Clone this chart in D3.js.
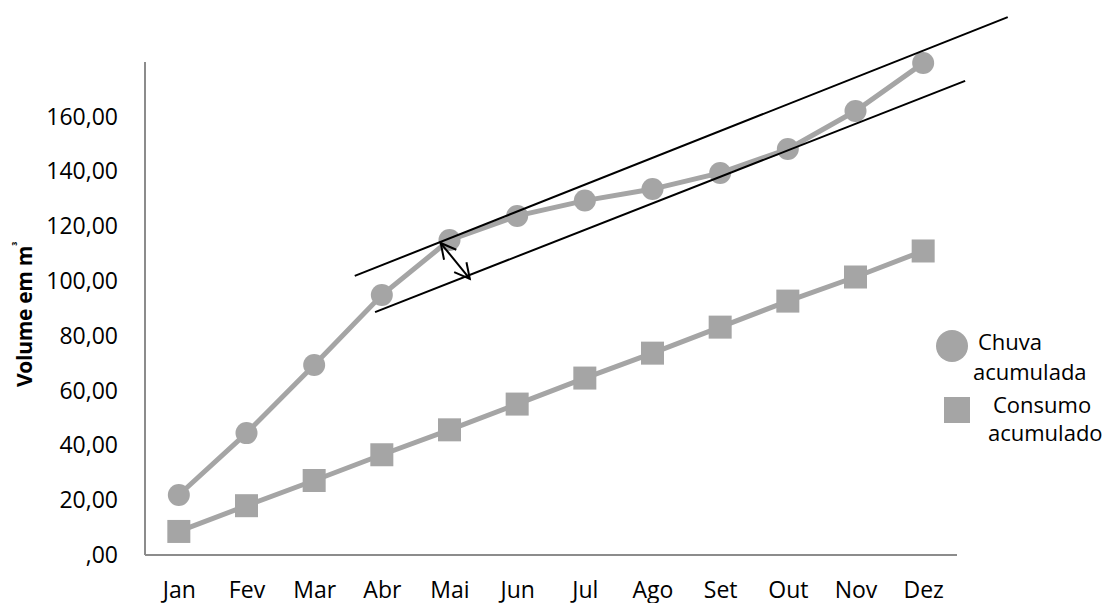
<!DOCTYPE html>
<html>
<head>
<meta charset="utf-8">
<script src="https://cdn.jsdelivr.net/npm/d3@7"></script>
<style>
  html, body { margin: 0; padding: 0; background: #fff; }
  svg { display: block; font-family: "Open Sans", "Noto Sans", sans-serif; }
</style>
</head>
<body>
<svg id="chart" width="1111" height="603"></svg>
<script>
// Months of the year (Portuguese)
const months = ["Jan", "Fev", "Mar", "Abr", "Mai", "Jun", "Jul", "Ago", "Set", "Out", "Nov", "Dez"];

// Accumulated rainfall collected (m³)
const chuvaAcumulada = [21.9, 44.5, 69.4, 94.9, 115.0, 123.8, 129.4, 133.6, 139.5, 148.2, 162.1, 179.6];

// Accumulated consumption (m³)
const consumoAcumulado = [8.6, 18.0, 27.2, 36.6, 45.7, 55.1, 64.6, 73.7, 83.2, 92.7, 101.5, 111.0];

// Y axis ticks and their labels
const yTicks = [0, 20, 40, 60, 80, 100, 120, 140, 160];
const yTickLabels = [",00", "20,00", "40,00", "60,00", "80,00", "100,00", "120,00", "140,00", "160,00"];

// Guide lines drawn over the chart, in (month index, volume) units
const guideUpper = [[2.6, 101.9], [12.25, 196.4]];
const guideLower = [[2.9, 88.7], [11.62, 173.1]];
// Double-headed arrow showing the gap between the guides
const gapArrow = [[3.87, 113.9], [4.30, 100.8]];

const legendItems = [
  { shape: "circle", lines: ["Chuva", "acumulada"] },
  { shape: "square", lines: ["Consumo", "acumulado"] }
];

const svg = d3.select("#chart");
const grey = "#a5a5a5";
const axisGrey = "#8c8c8c";

const plotLeft = 145, plotRight = 957, plotTop = 62, plotBottom = 555;

const x = d3.scalePoint().domain(months).range([plotLeft, plotRight]).padding(0.5);
const xi = d3.scaleLinear().domain([0, months.length - 1]).range([x(months[0]), x(months[months.length - 1])]);
const y = d3.scaleLinear().domain([0, 180]).range([plotBottom, plotTop]);

// Axes
const yAxis = d3.axisLeft(y).tickValues(yTicks).tickSize(0).tickPadding(27)
  .tickFormat((d, i) => yTickLabels[i]);
const gy = svg.append("g").attr("transform", `translate(${plotLeft},0)`).call(yAxis);
gy.select(".domain").remove();
gy.selectAll("text").attr("font-size", 23).attr("fill", "#000")
  .attr("font-family", "'Open Sans', sans-serif");

const xAxis = d3.axisBottom(x).tickSize(0).tickPadding(27);
const gx = svg.append("g").attr("transform", `translate(0,${plotBottom})`).call(xAxis);
gx.select(".domain").remove();
gx.selectAll("text").attr("font-size", 23).attr("fill", "#000")
  .attr("font-family", "'Open Sans', sans-serif");

svg.append("line").attr("x1", plotLeft).attr("x2", plotLeft).attr("y1", plotTop).attr("y2", plotBottom)
  .attr("stroke", axisGrey).attr("stroke-width", 2);
svg.append("line").attr("x1", plotLeft).attr("x2", plotRight).attr("y1", plotBottom).attr("y2", plotBottom)
  .attr("stroke", axisGrey).attr("stroke-width", 2);

// Y axis title
svg.append("text")
  .attr("transform", `translate(32,${(plotTop + plotBottom) / 2 + 6}) rotate(-90)`)
  .attr("text-anchor", "middle")
  .attr("font-size", 21).attr("font-weight", "bold")
  .attr("letter-spacing", -0.3)
  .text("Volume em m")
  .append("tspan").attr("font-size", 11).attr("dy", -11).text("³");

// Series lines
const line = d3.line().x((d, i) => x(months[i])).y(d => y(d));
svg.append("path").datum(consumoAcumulado).attr("d", line)
  .attr("fill", "none").attr("stroke", grey).attr("stroke-width", 5);
svg.append("path").datum(chuvaAcumulada).attr("d", line)
  .attr("fill", "none").attr("stroke", grey).attr("stroke-width", 5);

// Markers
svg.append("g").selectAll("rect").data(consumoAcumulado).join("rect")
  .attr("x", (d, i) => x(months[i]) - 11.5).attr("y", d => y(d) - 11.5)
  .attr("width", 23).attr("height", 23).attr("fill", grey);
svg.append("g").selectAll("circle").data(chuvaAcumulada).join("circle")
  .attr("cx", (d, i) => x(months[i])).attr("cy", d => y(d))
  .attr("r", 11).attr("fill", grey);

// Guide lines
const guideLine = d3.line().x(d => xi(d[0])).y(d => y(d[1]));
[guideUpper, guideLower].forEach(g => {
  svg.append("path").attr("d", guideLine(g)).attr("fill", "none")
    .attr("stroke", "#000").attr("stroke-width", 2);
});

// Double-headed arrow
const p0 = [xi(gapArrow[0][0]), y(gapArrow[0][1])];
const p1 = [xi(gapArrow[1][0]), y(gapArrow[1][1])];
svg.append("line").attr("x1", p0[0]).attr("y1", p0[1]).attr("x2", p1[0]).attr("y2", p1[1])
  .attr("stroke", "#000").attr("stroke-width", 2);
function head(tip, from) {
  const ang = Math.atan2(from[1] - tip[1], from[0] - tip[0]);
  const len = 17, spread = Math.PI / 6.5;
  const a = [tip[0] + len * Math.cos(ang - spread), tip[1] + len * Math.sin(ang - spread)];
  const b = [tip[0] + len * Math.cos(ang + spread), tip[1] + len * Math.sin(ang + spread)];
  svg.append("path").attr("d", `M${a[0]},${a[1]}L${tip[0]},${tip[1]}L${b[0]},${b[1]}`)
    .attr("fill", "none").attr("stroke", "#000").attr("stroke-width", 2);
}
head(p0, p1);
head(p1, p0);

// Legend
const legend = svg.append("g");
const lg0 = legend.append("g").attr("transform", "translate(952,346)");
lg0.append("circle").attr("r", 16).attr("fill", grey);
lg0.append("text").attr("x", 26).attr("y", -4).attr("dy", "0.35em").attr("font-size", 22).text(legendItems[0].lines[0]);
lg0.append("text").attr("x", 21).attr("y", 26).attr("dy", "0.35em").attr("font-size", 22).text(legendItems[0].lines[1]);
const lg1 = legend.append("g").attr("transform", "translate(957,410)");
lg1.append("rect").attr("x", -13).attr("y", -13).attr("width", 26).attr("height", 26).attr("fill", grey);
lg1.append("text").attr("x", 36).attr("y", -5).attr("dy", "0.35em").attr("font-size", 22).text(legendItems[1].lines[0]);
lg1.append("text").attr("x", 31).attr("y", 23).attr("dy", "0.35em").attr("font-size", 22).text(legendItems[1].lines[1]);
</script>
</body>
</html>
